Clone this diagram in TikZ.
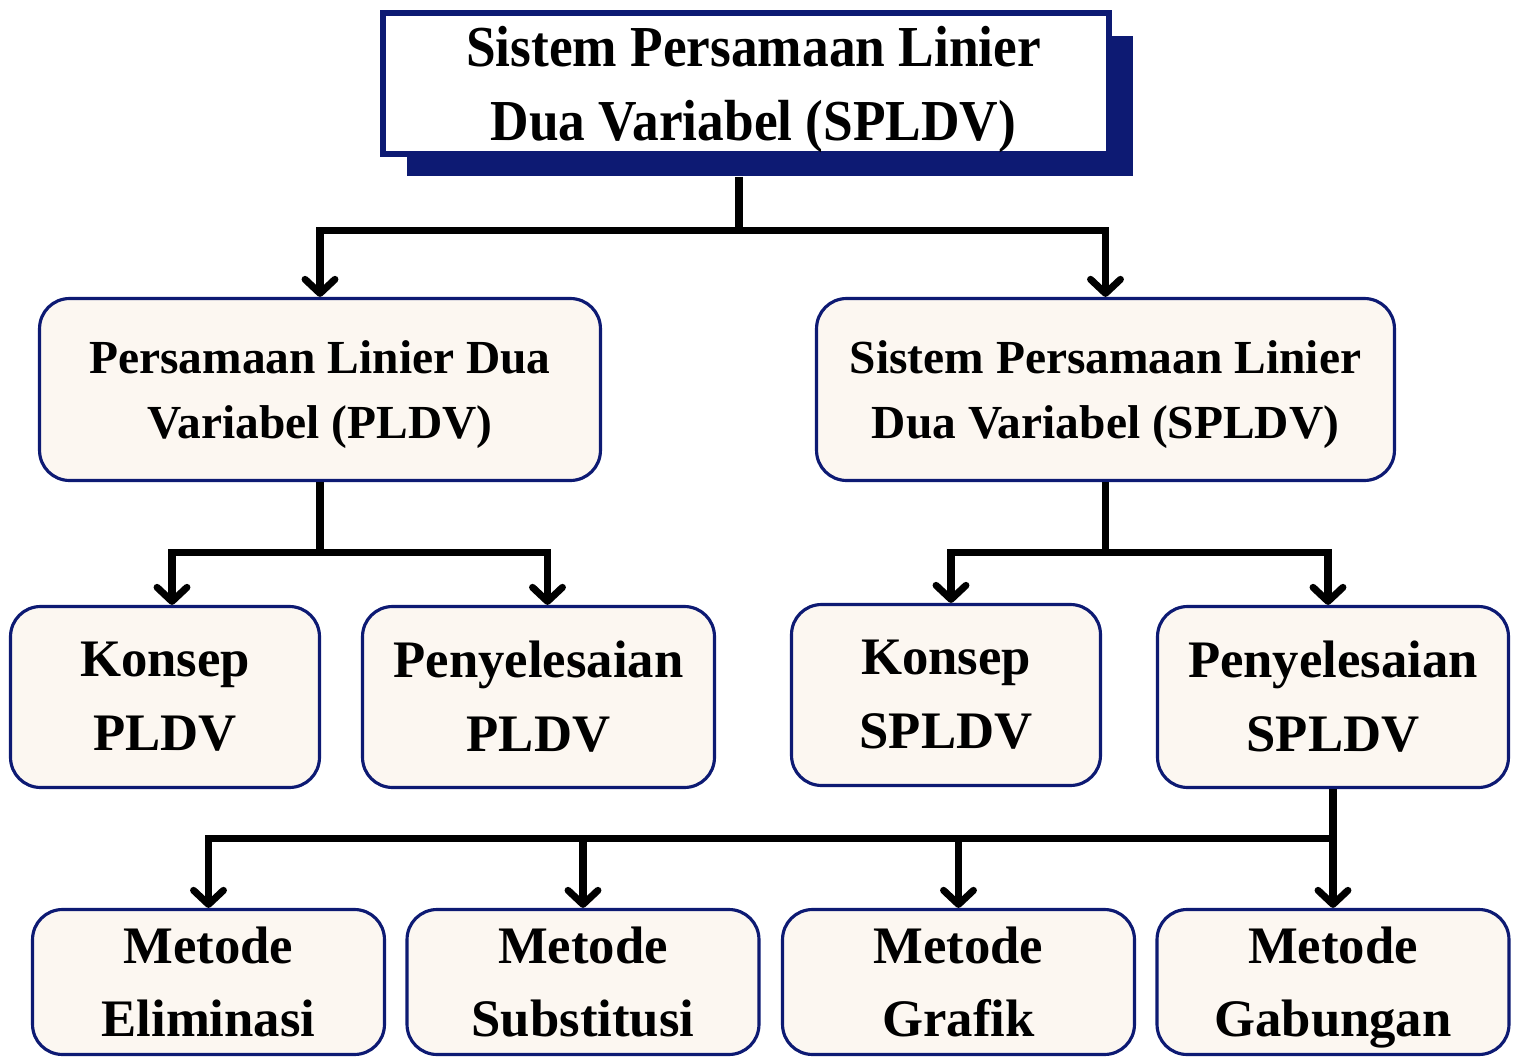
\documentclass[tikz,border=0pt]{standalone}
\usepackage{fontspec}
\setmainfont{Liberation Serif}
\newfontfamily\headfont{Liberation Serif}[FakeStretch=0.92]
\usepackage{tikz}
\usetikzlibrary{arrows.meta,shadows,positioning}
\definecolor{navy}{HTML}{0D1A73}
\definecolor{cream}{HTML}{FCF7F1}

\begin{document}
\begin{tikzpicture}[x=0.02cm,y=-0.02cm,
    >={Straight Barb[length=8pt,width=17pt,round]},
    link/.style={->,line width=4pt},
    head/.style={draw=navy,fill=white,line width=3.4pt,align=center,
        minimum width=14.52cm,minimum height=2.82cm,
        drop shadow={shadow xshift=0.48cm,shadow yshift=-0.45cm,fill=navy,opacity=1},
        font=\headfont\bfseries\fontsize{33}{42}\selectfont},
    box/.style={draw=navy,fill=cream,line width=1.8pt,rounded corners=0.6cm,align=center,
        font=\bfseries\fontsize{30}{42}\selectfont},
    wide/.style={box,minimum height=3.64cm,font=\bfseries\fontsize{27}{37.5}\selectfont},
    small/.style={box,minimum height=3.62cm},
    method/.style={box,minimum width=7.04cm,minimum height=2.9cm,
        font=\bfseries\fontsize{30}{41.5}\selectfont}]
    \useasboundingbox (0,0) rectangle (1516,1058);

    % Judul
    \node[head] (top) at (746,83.5) {\hspace{0.3cm}Sistem Persamaan Linier\\\hspace{0.3cm}\smash{Dua Variabel (SPLDV)}};

    % Tingkat kedua
    \node[wide,minimum width=11.22cm] (pldv) at (320,389.5) {Persamaan Linier Dua\\\smash{Variabel (PLDV)}};
    \node[wide,minimum width=11.56cm] (spldv) at (1105.5,389.5) {Sistem Persamaan Linier\\\smash{Dua Variabel (SPLDV)}};

    % Tingkat ketiga
    \node[small,minimum width=6.18cm] (kpldv) at (165,697) {Konsep\\PLDV};
    \node[small,minimum width=7.04cm] (ppldv) at (538.5,697) {Penyelesaian\\PLDV};
    \node[small,minimum width=6.18cm] (kspldv) at (946,695) {Konsep\\SPLDV};
    \node[small,minimum width=7.02cm] (pspldv) at (1333,697) {Penyelesaian\\SPLDV};

    % Metode
    \node[method] (elim) at (208.5,982) {Metode\\Eliminasi};
    \node[method] (subs) at (583,982) {Metode\\Substitusi};
    \node[method] (graf) at (958.5,982) {Metode\\Grafik};
    \node[method] (gab) at (1333,982) {Metode\\\smash{Gabungan}};

    % Penghubung
    \draw[link] ([xshift=-0.14cm,yshift=-0.4cm]top.south) -- ++(0,54) -| (pldv.north);
    \draw[link] ([xshift=-0.14cm,yshift=-0.4cm]top.south) -- ++(0,54) -| (spldv.north);
    \draw[link] (pldv.south) -- ++(0,70) -| ([xshift=0.14cm]kpldv.north);
    \draw[link] (pldv.south) -- ++(0,70) -| ([xshift=0.18cm]ppldv.north);
    \draw[link] (spldv.south) -- ++(0,70) -| ([xshift=0.1cm]kspldv.north);
    \draw[link] (spldv.south) -- ++(0,70) -| ([xshift=-0.1cm]pspldv.north);
    \draw[link] (pspldv.south) -- ++(0,49) -| (elim.north);
    \draw[link] (pspldv.south) -- ++(0,49) -| (subs.north);
    \draw[link] (pspldv.south) -- ++(0,49) -| (graf.north);
    \draw[link] (pspldv.south) -- (gab.north);
\end{tikzpicture}
\end{document}
